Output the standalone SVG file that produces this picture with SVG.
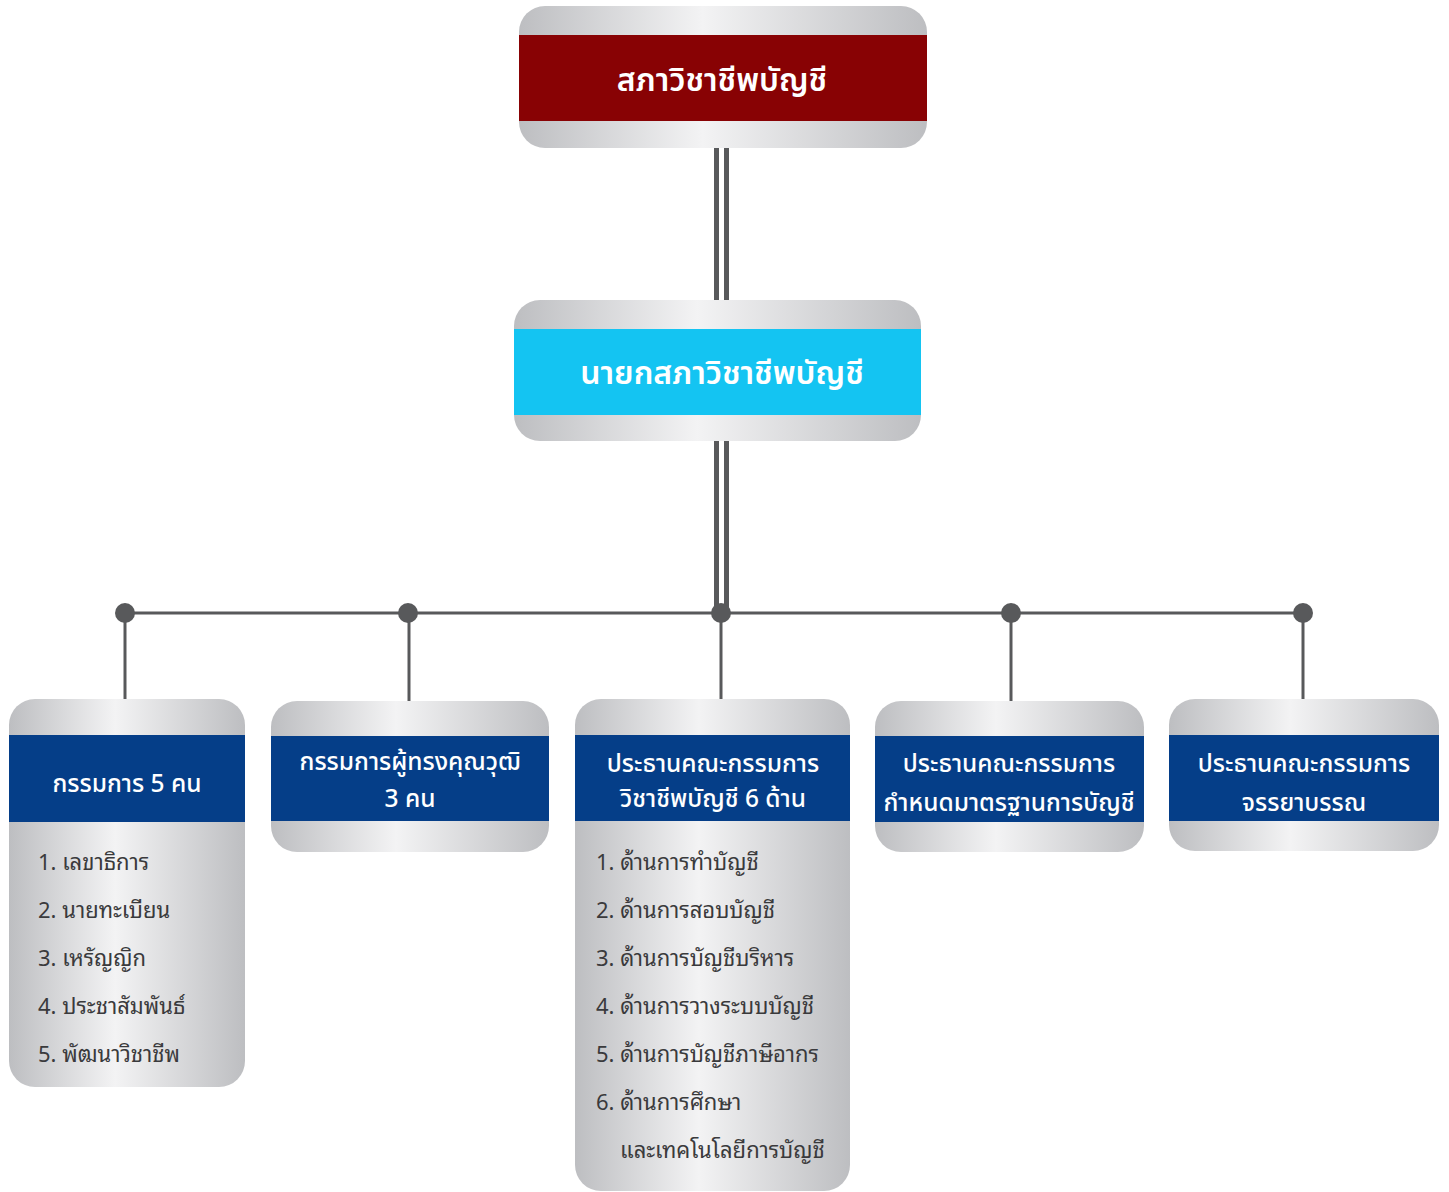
<svg xmlns="http://www.w3.org/2000/svg" width="1449" height="1192" viewBox="0 0 1449 1192">
<defs>
<linearGradient id="silver" x1="0" y1="0" x2="1" y2="0">
<stop offset="0" stop-color="#BDBEC1"/>
<stop offset="0.45" stop-color="#F3F3F4"/>
<stop offset="1" stop-color="#BDBEC1"/>
</linearGradient>
</defs>
<style>
.box{fill:url(#silver);}
.red{fill:#880204;}
.cyan{fill:#14C4F2;}
.blue{fill:#053E88;}
.t1{font-family:"Noto Sans Thai","Noto Sans","DejaVu Sans",sans-serif;font-size:32px;font-weight:600;fill:#fff;text-anchor:middle;}
.t2{font-family:"Noto Sans Thai","Noto Sans","DejaVu Sans",sans-serif;font-size:24.5px;font-weight:500;fill:#fff;text-anchor:middle;}
.li{font-family:"Noto Sans Thai Looped","Noto Serif Thai","Noto Sans Thai","Noto Sans",sans-serif;font-size:22px;fill:#3A3A3C;}
.ln{stroke:#58595B;stroke-width:3;fill:none;}
.dl{stroke:#58595B;stroke-width:5;fill:none;}
.dot{fill:#58595B;}
</style>
<g id="connectors">
<line class="dl" x1="716.5" y1="146" x2="716.5" y2="302"/>
<line class="dl" x1="726.5" y1="146" x2="726.5" y2="302"/>
<line class="dl" x1="716.5" y1="440" x2="716.5" y2="612"/>
<line class="dl" x1="726.5" y1="440" x2="726.5" y2="612"/>
<line class="ln" x1="125" y1="613" x2="1303" y2="613"/>
<line class="ln" x1="125" y1="613" x2="125" y2="700"/>
<line class="ln" x1="409" y1="613" x2="409" y2="702"/>
<line class="ln" x1="721" y1="613" x2="721" y2="700"/>
<line class="ln" x1="1011" y1="613" x2="1011" y2="702"/>
<line class="ln" x1="1303" y1="613" x2="1303" y2="700"/>
<circle class="dot" cx="125" cy="613" r="10"/>
<circle class="dot" cx="408" cy="613" r="10"/>
<circle class="dot" cx="721" cy="613" r="10"/>
<circle class="dot" cx="1011" cy="613" r="10"/>
<circle class="dot" cx="1303" cy="613" r="10"/>
</g>
<g id="council">
<rect class="box" x="519" y="6" width="408" height="142" rx="26"/>
<rect class="red" x="519" y="35" width="408" height="86"/>
<text class="t1" x="722" y="91">สภาวิชาชีพบัญชี</text>
</g>
<g id="president">
<rect class="box" x="514" y="300" width="407" height="141" rx="26"/>
<rect class="cyan" x="514" y="329" width="407" height="86"/>
<text class="t1" x="722" y="384">นายกสภาวิชาชีพบัญชี</text>
</g>
<g id="committee5">
<rect class="box" x="9" y="699" width="236" height="388" rx="26"/>
<rect class="blue" x="9" y="735" width="236" height="87"/>
<text class="t2" x="127" y="792">กรรมการ 5 คน</text>
<text class="li" x="38" y="870">1. เลขาธิการ</text>
<text class="li" x="38" y="918">2. นายทะเบียน</text>
<text class="li" x="38" y="966">3. เหรัญญิก</text>
<text class="li" x="38" y="1014">4. ประชาสัมพันธ์</text>
<text class="li" x="38" y="1062">5. พัฒนาวิชาชีพ</text>
</g>
<g id="experts">
<rect class="box" x="271" y="701" width="278" height="151" rx="26"/>
<rect class="blue" x="271" y="736" width="278" height="85"/>
<text class="t2" x="410" y="770">กรรมการผู้ทรงคุณวุฒิ</text>
<text class="t2" x="410" y="807">3 คน</text>
</g>
<g id="professions">
<rect class="box" x="575" y="699" width="275" height="492" rx="26"/>
<rect class="blue" x="575" y="735" width="275" height="86"/>
<text class="t2" x="713" y="772">ประธานคณะกรรมการ</text>
<text class="t2" x="713" y="807">วิชาชีพบัญชี 6 ด้าน</text>
<text class="li" x="596" y="870">1. ด้านการทำบัญชี</text>
<text class="li" x="596" y="918">2. ด้านการสอบบัญชี</text>
<text class="li" x="596" y="966">3. ด้านการบัญชีบริหาร</text>
<text class="li" x="596" y="1014">4. ด้านการวางระบบบัญชี</text>
<text class="li" x="596" y="1062">5. ด้านการบัญชีภาษีอากร</text>
<text class="li" x="596" y="1110">6. ด้านการศึกษา</text>
<text class="li" x="620" y="1158">และเทคโนโลยีการบัญชี</text>
</g>
<g id="standards">
<rect class="box" x="875" y="701" width="269" height="151" rx="26"/>
<rect class="blue" x="875" y="736" width="269" height="86"/>
<text class="t2" x="1009" y="772">ประธานคณะกรรมการ</text>
<text class="t2" x="1009" y="811">กำหนดมาตรฐานการบัญชี</text>
</g>
<g id="ethics">
<rect class="box" x="1169" y="699" width="270" height="152" rx="26"/>
<rect class="blue" x="1169" y="735" width="270" height="86"/>
<text class="t2" x="1304" y="772">ประธานคณะกรรมการ</text>
<text class="t2" x="1304" y="811">จรรยาบรรณ</text>
</g>
</svg>
